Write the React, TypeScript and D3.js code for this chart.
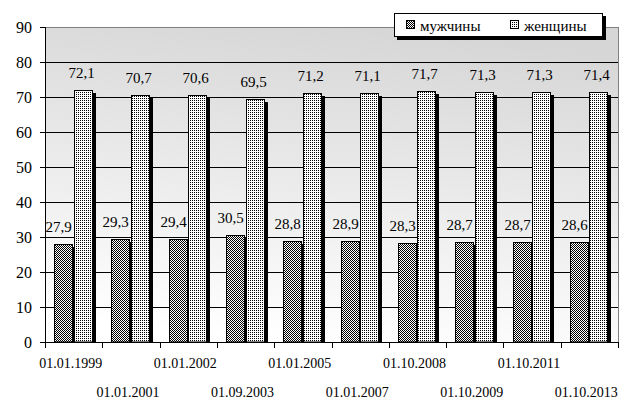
import React from 'react'
import * as d3 from 'd3'

const dates = ['01.01.1999', '01.01.2001', '01.01.2002', '01.09.2003', '01.01.2005', '01.01.2007', '01.10.2008', '01.10.2009', '01.10.2011', '01.10.2013']
const men = [27.9, 29.3, 29.4, 30.5, 28.8, 28.9, 28.3, 28.7, 28.7, 28.6]
const women = [72.1, 70.7, 70.6, 69.5, 71.2, 71.1, 71.7, 71.3, 71.3, 71.4]
const seriesNames = ['мужчины', 'женщины']
const yTicks = [0, 10, 20, 30, 40, 50, 60, 70, 80, 90]

const W = 632
const H = 406
const left = 45
const right = 618
const top = 27
const bottom = 342
const txt = {fontFamily: '"Liberation Serif"'}
const fmt = (v: number) => String(v).replace('.', ',')

export default function App () {
  const x = d3.scaleBand<string>().domain(dates).range([left, right])
  const inner = d3.scaleBand<string>().domain(seriesNames).range([0, x.step()]).paddingOuter(0.47)
  const y = d3.scaleLinear().domain([0, 90]).range([bottom, top])
  const bw = inner.bandwidth()
  const series = [men, women]
  const fills = ['url(#pMen)', 'url(#pWomen)']
  const labelShift = [-5, -2]

  return (
    <svg width={W} height={H} style={{position: 'absolute', left: 0, top: 0}}>
      <defs>
        <linearGradient id='bg' x1='0.6' y1='0' x2='0.4' y2='1'>
          <stop offset='0' stopColor='#d6d6d6' />
          <stop offset='1' stopColor='#ffffff' />
        </linearGradient>
        <pattern id='pMen' width='2' height='2' patternUnits='userSpaceOnUse'>
          <rect width='2' height='2' fill='#fff' />
          <rect width='1' height='1' fill='#000' />
          <rect x='1' y='1' width='1' height='1' fill='#000' />
        </pattern>
        <pattern id='pWomen' width='2' height='2' patternUnits='userSpaceOnUse'>
          <rect width='2' height='2' fill='#fff' />
          <rect width='1' height='1' fill='#000' />
        </pattern>
      </defs>
      <rect width={W} height={H} fill='#fff' />
      <rect x={left} y={top} width={right - left} height={bottom - top} fill='url(#bg)' />
      {yTicks.slice(1, -1).map(t => (
        <line key={t} x1={left} x2={right} y1={Math.round(y(t)) + 0.5} y2={Math.round(y(t)) + 0.5} stroke='#000' />
      ))}
      <line x1={left} x2={right} y1={top + 0.5} y2={top + 0.5} stroke='#808080' />
      <line x1={right + 0.5} x2={right + 0.5} y1={top} y2={bottom} stroke='#808080' />

      {dates.map((d, i) => (
        <g key={d}>
          {series.map((s, k) => {
            const bx = Math.round((x(d) as number) + (inner(seriesNames[k]) as number))
            const by = Math.round(y(s[i]))
            const w = Math.round(bw)
            return (
              <g key={k}>
                <rect x={bx + 3} y={by + 3} width={w} height={bottom - by - 3} fill='#000' />
                <rect x={bx + 0.5} y={by + 0.5} width={w - 1} height={bottom - by - 0.5} fill={fills[k]} stroke='#000' />
                <text x={bx + w / 2 + labelShift[k]} y={by - 12} fontSize={15} textAnchor='middle' style={txt}>{fmt(s[i])}</text>
              </g>
            )
          })}
        </g>
      ))}

      <line x1={left + 0.5} x2={left + 0.5} y1={top} y2={bottom + 1} stroke='#000' />
      <line x1={left - 5} x2={right + 1} y1={bottom + 0.5} y2={bottom + 0.5} stroke='#000' />
      {yTicks.map(t => (
        <g key={t}>
          <line x1={left - 5} x2={left} y1={Math.round(y(t)) + 0.5} y2={Math.round(y(t)) + 0.5} stroke='#000' />
          <text x={32} y={y(t) + 5.5} fontSize={16} textAnchor='end' style={txt}>{t}</text>
        </g>
      ))}
      {dates.concat(['']).map((d, i) => {
        const tx = Math.round(left + i * x.step()) + 0.5
        return <line key={i} x1={tx} x2={tx} y1={bottom} y2={bottom + 6} stroke='#000' />
      })}
      {dates.map((d, i) => (
        <text key={d} x={(x(d) as number) + x.step() / 2 - 3} y={i % 2 === 0 ? 368 : 397} fontSize={14} textAnchor='middle' style={txt}>{d}</text>
      ))}

      <g>
        <rect x={397} y={16} width={209} height={24} fill='#000' />
        <rect x={394.5} y={13.5} width={208} height={23} fill='#fff' stroke='#000' />
        {seriesNames.map((n, k) => {
          const lx = k === 0 ? 406 : 510
          return (
            <g key={n}>
              <rect x={lx + 0.5} y={20.5} width={8} height={8} fill={fills[k]} stroke='#000' />
              <text x={lx + 14} y={31} fontSize={15} style={txt}>{n}</text>
            </g>
          )
        })}
      </g>
    </svg>
  )
}
